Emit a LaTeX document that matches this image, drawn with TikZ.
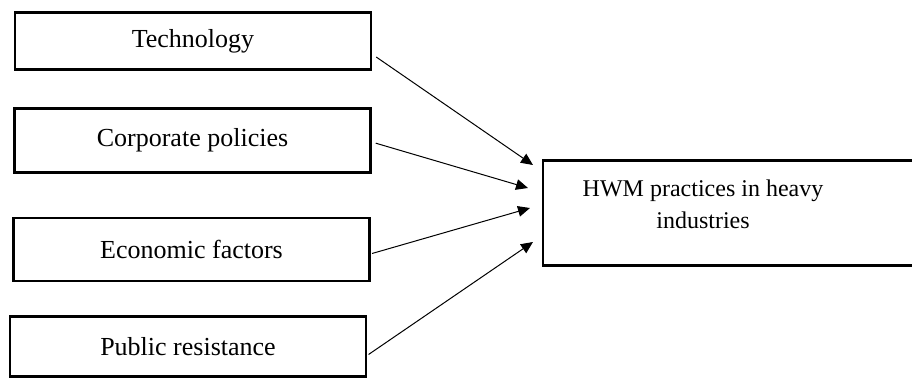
\documentclass[tikz,border=0pt]{standalone}
\usepackage{fontspec}
\setmainfont{Liberation Serif}
\usetikzlibrary{arrows.meta, positioning}

\begin{document}
\begin{tikzpicture}[x=0.75pt, y=-0.75pt,
    factor/.style={rectangle, draw, line width=1.8pt, minimum width=267pt, inner sep=0pt, font=\fontsize{19.5}{23}\selectfont},
    link/.style={-{Triangle[length=9pt,width=8pt]}, line width=0.75pt}]
    \useasboundingbox (0,0) rectangle (912,378);
    \node (tech) [factor, minimum height=43pt] at (193,41) {Technology};
    \node (corp) [factor, minimum height=48pt] at (192.5,140.5) {Corporate policies};
    \node (econ) [factor, minimum height=47pt] at (191.5,249.5) {Economic factors};
    \node (pub) [factor, minimum height=45pt] at (188,346.5) {Public resistance};
    \node (hwm) [rectangle, draw, line width=1.8pt, minimum width=285pt, minimum height=79pt] at (733,213) {};
    \node (hwmtext) [align=center, font=\fontsize{18}{24}\selectfont] at (703,204) {HWM practices in heavy\\industries};

    \coordinate (t1) at (533,165);
    \coordinate (t2) at (528,188);
    \coordinate (t3) at (530,208);
    \coordinate (t4) at (533,242);

    \draw[link] ([xshift=3pt,yshift=-12pt]tech.east) -- (t1);
    \draw[link] ([xshift=3pt,yshift=-2pt]corp.east) -- (t2);
    \draw[link] ([xshift=1pt,yshift=-3pt]econ.east) -- (t3);
    \draw[link] ([xshift=1pt,yshift=-6pt]pub.east) -- (t4);
\end{tikzpicture}
\end{document}
